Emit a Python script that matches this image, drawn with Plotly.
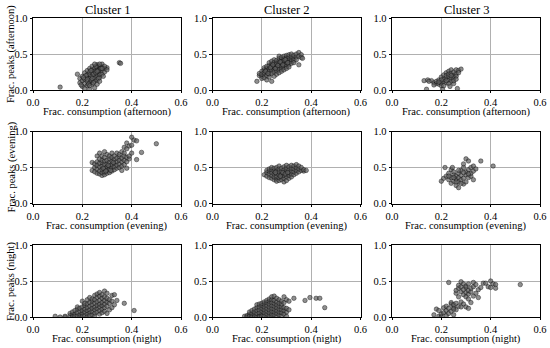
import plotly.graph_objects as go

# ---------------- data ----------------
clusters = ["Cluster 1", "Cluster 2", "Cluster 3"]
periods = ["afternoon", "evening", "night"]
x_ticks = [0.0, 0.2, 0.4, 0.6]
y_ticks = [0.0, 0.5, 1.0]

c1_afternoon = [
    (0.11, 0.04), (0.35, 0.38), (0.355, 0.37), (0.30, 0.31), (0.29, 0.30), (0.18, 0.22),
    (0.19, 0.16), (0.19, 0.10), (0.20, 0.05), (0.20, 0.13), (0.20, 0.19), (0.21, 0.24),
    (0.21, 0.09), (0.21, 0.15), (0.21, 0.02), (0.22, 0.18), (0.22, 0.27), (0.22, 0.12),
    (0.22, 0.21), (0.22, 0.06), (0.23, 0.30), (0.23, 0.16), (0.23, 0.22), (0.23, 0.10),
    (0.23, 0.25), (0.23, 0.01), (0.24, 0.19), (0.24, 0.28), (0.24, 0.13), (0.24, 0.24),
    (0.24, 0.08), (0.24, 0.33), (0.25, 0.21), (0.25, 0.17), (0.25, 0.30), (0.25, 0.26),
    (0.25, 0.12), (0.25, 0.03), (0.26, 0.35), (0.26, 0.23), (0.26, 0.28), (0.26, 0.19),
    (0.26, 0.14), (0.26, 0.31), (0.27, 0.25), (0.27, 0.33), (0.27, 0.21), (0.27, 0.29),
    (0.27, 0.17), (0.28, 0.27), (0.28, 0.32), (0.28, 0.22), (0.28, 0.36), (0.29, 0.25),
    (0.29, 0.33), (0.30, 0.28), (0.215, 0.20), (0.235, 0.14), (0.245, 0.22), (0.255, 0.24),
    (0.265, 0.27), (0.275, 0.30), (0.235, 0.27), (0.225, 0.08), (0.245, 0.10), (0.265, 0.16),
    (0.205, 0.17), (0.255, 0.33), (0.285, 0.19), (0.195, 0.07), (0.23, 0.06), (0.26, 0.08),
    (0.27, 0.36), (0.25, 0.36), (0.28, 0.30), (0.24, 0.16), (0.22, 0.15), (0.26, 0.26),
    (0.27, 0.12),
]

c2_afternoon = [
    (0.18, 0.12), (0.19, 0.20), (0.19, 0.23), (0.20, 0.19), (0.20, 0.26), (0.20, 0.22),
    (0.20, 0.16), (0.21, 0.21), (0.21, 0.28), (0.21, 0.24), (0.21, 0.17), (0.21, 0.31),
    (0.22, 0.25), (0.22, 0.30), (0.22, 0.20), (0.22, 0.33), (0.22, 0.14), (0.22, 0.27),
    (0.23, 0.29), (0.23, 0.34), (0.23, 0.22), (0.23, 0.38), (0.23, 0.26), (0.23, 0.18),
    (0.24, 0.31), (0.24, 0.27), (0.24, 0.36), (0.24, 0.40), (0.24, 0.23), (0.24, 0.12),
    (0.24, 0.33), (0.25, 0.28), (0.25, 0.35), (0.25, 0.32), (0.25, 0.42), (0.25, 0.25),
    (0.25, 0.19), (0.25, 0.38), (0.26, 0.33), (0.26, 0.30), (0.26, 0.38), (0.26, 0.41),
    (0.26, 0.26), (0.26, 0.22), (0.26, 0.36), (0.27, 0.35), (0.27, 0.31), (0.27, 0.40),
    (0.27, 0.44), (0.27, 0.28), (0.27, 0.24), (0.27, 0.37), (0.27, 0.47), (0.28, 0.37),
    (0.28, 0.33), (0.28, 0.42), (0.28, 0.29), (0.28, 0.45), (0.28, 0.26), (0.28, 0.39),
    (0.29, 0.39), (0.29, 0.34), (0.29, 0.44), (0.29, 0.31), (0.29, 0.47), (0.29, 0.28),
    (0.29, 0.41), (0.30, 0.40), (0.30, 0.36), (0.30, 0.45), (0.30, 0.48), (0.30, 0.33),
    (0.30, 0.43), (0.30, 0.30), (0.31, 0.42), (0.31, 0.38), (0.31, 0.46), (0.31, 0.49),
    (0.31, 0.35), (0.31, 0.32), (0.32, 0.43), (0.32, 0.40), (0.32, 0.47), (0.32, 0.37),
    (0.32, 0.50), (0.33, 0.44), (0.33, 0.48), (0.33, 0.41), (0.33, 0.38), (0.34, 0.46),
    (0.34, 0.50), (0.34, 0.42), (0.35, 0.52), (0.35, 0.47), (0.35, 0.35), (0.36, 0.49),
    (0.36, 0.45), (0.365, 0.44), (0.215, 0.26), (0.235, 0.31), (0.255, 0.30), (0.265, 0.34),
    (0.275, 0.39), (0.285, 0.35), (0.295, 0.42), (0.305, 0.38), (0.245, 0.35), (0.225, 0.23),
]

c3_afternoon = [
    (0.13, 0.13), (0.145, 0.14), (0.14, 0.01), (0.16, 0.13), (0.17, 0.10), (0.18, 0.09),
    (0.18, 0.12), (0.19, 0.14), (0.19, 0.08), (0.20, 0.10), (0.20, 0.06), (0.20, 0.18),
    (0.205, 0.01), (0.21, 0.12), (0.21, 0.15), (0.21, 0.21), (0.22, 0.17), (0.22, 0.24),
    (0.22, 0.10), (0.22, 0.20), (0.23, 0.14), (0.23, 0.26), (0.23, 0.19), (0.23, 0.22),
    (0.24, 0.16), (0.24, 0.23), (0.24, 0.12), (0.24, 0.28), (0.25, 0.20), (0.25, 0.25),
    (0.25, 0.17), (0.25, 0.09), (0.26, 0.22), (0.26, 0.28), (0.26, 0.19), (0.265, 0.02),
    (0.27, 0.27), (0.27, 0.24), (0.28, 0.29), (0.21, 0.06), (0.23, 0.09), (0.24, 0.20),
    (0.22, 0.13), (0.25, 0.13), (0.20, 0.14), (0.26, 0.15), (0.19, 0.11), (0.17, 0.07),
    (0.15, 0.12), (0.235, 0.05),
]

c1_evening = [
    (0.24, 0.46), (0.24, 0.57), (0.25, 0.50), (0.25, 0.55), (0.25, 0.44), (0.26, 0.42),
    (0.26, 0.48), (0.26, 0.53), (0.26, 0.58), (0.26, 0.66), (0.27, 0.41), (0.27, 0.45),
    (0.27, 0.51), (0.27, 0.56), (0.27, 0.62), (0.27, 0.70), (0.28, 0.39), (0.28, 0.43),
    (0.28, 0.47), (0.28, 0.52), (0.28, 0.57), (0.28, 0.60), (0.28, 0.66), (0.29, 0.40),
    (0.29, 0.44), (0.29, 0.49), (0.29, 0.54), (0.29, 0.59), (0.29, 0.64), (0.29, 0.72),
    (0.30, 0.42), (0.30, 0.46), (0.30, 0.51), (0.30, 0.55), (0.30, 0.60), (0.30, 0.68),
    (0.31, 0.43), (0.31, 0.48), (0.31, 0.52), (0.31, 0.57), (0.31, 0.62), (0.31, 0.66),
    (0.32, 0.45), (0.32, 0.50), (0.32, 0.54), (0.32, 0.59), (0.32, 0.64), (0.32, 0.70),
    (0.33, 0.47), (0.33, 0.51), (0.33, 0.56), (0.33, 0.61), (0.33, 0.66), (0.34, 0.49),
    (0.34, 0.53), (0.34, 0.58), (0.34, 0.63), (0.34, 0.70), (0.35, 0.50), (0.35, 0.55),
    (0.35, 0.60), (0.35, 0.65), (0.35, 0.68), (0.36, 0.46), (0.36, 0.52), (0.36, 0.58),
    (0.36, 0.63), (0.36, 0.72), (0.37, 0.54), (0.37, 0.60), (0.37, 0.66), (0.37, 0.70),
    (0.37, 0.78), (0.38, 0.49), (0.38, 0.58), (0.38, 0.64), (0.38, 0.76), (0.38, 0.84),
    (0.39, 0.62), (0.39, 0.66), (0.39, 0.80), (0.40, 0.70), (0.40, 0.81), (0.40, 0.92),
    (0.41, 0.88), (0.42, 0.61), (0.42, 0.87), (0.44, 0.71), (0.50, 0.83), (0.285, 0.49),
    (0.305, 0.53), (0.315, 0.46), (0.295, 0.45), (0.325, 0.57),
]

c2_evening = [
    (0.21, 0.40), (0.22, 0.38), (0.22, 0.43), (0.22, 0.46), (0.23, 0.36), (0.23, 0.41),
    (0.23, 0.45), (0.23, 0.48), (0.24, 0.35), (0.24, 0.39), (0.24, 0.43), (0.24, 0.47),
    (0.24, 0.50), (0.25, 0.33), (0.25, 0.37), (0.25, 0.41), (0.25, 0.45), (0.25, 0.49),
    (0.26, 0.34), (0.26, 0.38), (0.26, 0.42), (0.26, 0.46), (0.26, 0.50), (0.26, 0.31),
    (0.27, 0.32), (0.27, 0.36), (0.27, 0.40), (0.27, 0.44), (0.27, 0.48), (0.27, 0.52),
    (0.28, 0.33), (0.28, 0.37), (0.28, 0.41), (0.28, 0.45), (0.28, 0.49), (0.29, 0.30),
    (0.29, 0.35), (0.29, 0.39), (0.29, 0.43), (0.29, 0.47), (0.29, 0.51), (0.30, 0.32),
    (0.30, 0.37), (0.30, 0.41), (0.30, 0.45), (0.30, 0.49), (0.30, 0.53), (0.31, 0.35),
    (0.31, 0.39), (0.31, 0.43), (0.31, 0.47), (0.31, 0.51), (0.32, 0.37), (0.32, 0.41),
    (0.32, 0.45), (0.32, 0.49), (0.32, 0.53), (0.33, 0.40), (0.33, 0.44), (0.33, 0.48),
    (0.33, 0.52), (0.34, 0.42), (0.34, 0.46), (0.34, 0.50), (0.34, 0.54), (0.35, 0.44),
    (0.35, 0.48), (0.35, 0.52), (0.36, 0.46), (0.36, 0.50), (0.37, 0.45), (0.37, 0.47),
    (0.38, 0.46), (0.255, 0.43), (0.275, 0.38), (0.285, 0.43), (0.295, 0.41), (0.305, 0.43),
]

c3_evening = [
    (0.20, 0.31), (0.21, 0.35), (0.215, 0.50), (0.22, 0.38), (0.23, 0.33), (0.23, 0.42),
    (0.24, 0.28), (0.24, 0.36), (0.24, 0.47), (0.245, 0.50), (0.25, 0.31), (0.25, 0.40),
    (0.25, 0.44), (0.26, 0.25), (0.26, 0.34), (0.26, 0.38), (0.27, 0.22), (0.27, 0.30),
    (0.27, 0.36), (0.27, 0.42), (0.28, 0.33), (0.28, 0.39), (0.28, 0.46), (0.29, 0.27),
    (0.29, 0.35), (0.29, 0.50), (0.29, 0.55), (0.30, 0.30), (0.30, 0.40), (0.30, 0.44),
    (0.30, 0.62), (0.31, 0.36), (0.31, 0.47), (0.31, 0.59), (0.32, 0.38), (0.32, 0.42),
    (0.32, 0.50), (0.33, 0.45), (0.33, 0.33), (0.33, 0.52), (0.34, 0.48), (0.36, 0.59),
    (0.41, 0.52), (0.26, 0.30), (0.28, 0.28), (0.25, 0.36), (0.23, 0.38), (0.31, 0.41),
    (0.29, 0.43), (0.27, 0.46),
]

c1_night = [
    (0.09, 0.01), (0.11, 0.00), (0.13, 0.00), (0.13, 0.01), (0.15, 0.02), (0.15, 0.05),
    (0.16, 0.03), (0.16, 0.07), (0.16, 0.00), (0.17, 0.04), (0.17, 0.09), (0.17, 0.01),
    (0.18, 0.02), (0.18, 0.06), (0.18, 0.11), (0.18, 0.14), (0.19, 0.03), (0.19, 0.08),
    (0.19, 0.12), (0.19, 0.00), (0.20, 0.05), (0.20, 0.09), (0.20, 0.14), (0.20, 0.01),
    (0.20, 0.22), (0.21, 0.02), (0.21, 0.07), (0.21, 0.11), (0.21, 0.16), (0.21, 0.19),
    (0.22, 0.04), (0.22, 0.09), (0.22, 0.13), (0.22, 0.18), (0.22, 0.00), (0.22, 0.24),
    (0.23, 0.06), (0.23, 0.10), (0.23, 0.15), (0.23, 0.20), (0.23, 0.02), (0.23, 0.27),
    (0.24, 0.03), (0.24, 0.08), (0.24, 0.12), (0.24, 0.17), (0.24, 0.22), (0.24, 0.25),
    (0.25, 0.05), (0.25, 0.10), (0.25, 0.14), (0.25, 0.19), (0.25, 0.24), (0.25, 0.30),
    (0.25, 0.01), (0.26, 0.07), (0.26, 0.12), (0.26, 0.16), (0.26, 0.21), (0.26, 0.27),
    (0.26, 0.32), (0.27, 0.04), (0.27, 0.09), (0.27, 0.14), (0.27, 0.18), (0.27, 0.23),
    (0.27, 0.29), (0.27, 0.34), (0.28, 0.06), (0.28, 0.11), (0.28, 0.16), (0.28, 0.20),
    (0.28, 0.26), (0.28, 0.31), (0.29, 0.08), (0.29, 0.13), (0.29, 0.18), (0.29, 0.23),
    (0.29, 0.28), (0.29, 0.36), (0.30, 0.05), (0.30, 0.15), (0.30, 0.21), (0.30, 0.26),
    (0.30, 0.33), (0.31, 0.10), (0.31, 0.19), (0.31, 0.24), (0.32, 0.13), (0.32, 0.22),
    (0.32, 0.30), (0.33, 0.17), (0.33, 0.31), (0.34, 0.23), (0.37, 0.19), (0.41, 0.09),
]

c2_night = [
    (0.13, 0.01), (0.14, 0.02), (0.14, 0.00), (0.15, 0.04), (0.15, 0.01), (0.15, 0.07),
    (0.16, 0.02), (0.16, 0.05), (0.16, 0.09), (0.16, 0.00), (0.17, 0.03), (0.17, 0.07),
    (0.17, 0.11), (0.17, 0.00), (0.18, 0.01), (0.18, 0.05), (0.18, 0.09), (0.18, 0.13),
    (0.18, 0.17), (0.19, 0.02), (0.19, 0.06), (0.19, 0.10), (0.19, 0.14), (0.19, 0.18),
    (0.19, 0.00), (0.20, 0.04), (0.20, 0.08), (0.20, 0.12), (0.20, 0.16), (0.20, 0.19),
    (0.20, 0.01), (0.21, 0.02), (0.21, 0.06), (0.21, 0.10), (0.21, 0.14), (0.21, 0.18),
    (0.21, 0.21), (0.22, 0.00), (0.22, 0.04), (0.22, 0.08), (0.22, 0.12), (0.22, 0.16),
    (0.22, 0.20), (0.22, 0.23), (0.23, 0.02), (0.23, 0.06), (0.23, 0.10), (0.23, 0.14),
    (0.23, 0.18), (0.23, 0.22), (0.23, 0.25), (0.24, 0.01), (0.24, 0.04), (0.24, 0.08),
    (0.24, 0.12), (0.24, 0.16), (0.24, 0.20), (0.24, 0.24), (0.24, 0.28), (0.25, 0.03),
    (0.25, 0.07), (0.25, 0.11), (0.25, 0.15), (0.25, 0.19), (0.25, 0.23), (0.25, 0.29),
    (0.26, 0.01), (0.26, 0.05), (0.26, 0.09), (0.26, 0.13), (0.26, 0.17), (0.26, 0.21),
    (0.26, 0.26), (0.27, 0.03), (0.27, 0.07), (0.27, 0.11), (0.27, 0.15), (0.27, 0.19),
    (0.27, 0.24), (0.28, 0.02), (0.28, 0.06), (0.28, 0.10), (0.28, 0.14), (0.28, 0.18),
    (0.28, 0.22), (0.29, 0.04), (0.29, 0.09), (0.29, 0.13), (0.29, 0.20), (0.29, 0.28),
    (0.30, 0.01), (0.30, 0.07), (0.30, 0.12), (0.30, 0.24), (0.31, 0.10), (0.31, 0.22),
    (0.33, 0.26), (0.375, 0.23), (0.395, 0.27), (0.42, 0.26), (0.435, 0.26), (0.455, 0.13),
]

c3_night = [
    (0.17, 0.03), (0.18, 0.11), (0.19, 0.01), (0.19, 0.09), (0.20, 0.04), (0.20, 0.00),
    (0.21, 0.06), (0.21, 0.13), (0.22, 0.02), (0.22, 0.09), (0.22, 0.15), (0.23, 0.48),
    (0.23, 0.05), (0.23, 0.12), (0.24, 0.18), (0.24, 0.08), (0.24, 0.20), (0.25, 0.13),
    (0.25, 0.17), (0.25, 0.03), (0.26, 0.10), (0.26, 0.19), (0.26, 0.33), (0.26, 0.37),
    (0.27, 0.15), (0.27, 0.28), (0.27, 0.40), (0.27, 0.44), (0.28, 0.21), (0.28, 0.35),
    (0.28, 0.42), (0.28, 0.49), (0.29, 0.18), (0.29, 0.31), (0.29, 0.38), (0.29, 0.46),
    (0.30, 0.14), (0.30, 0.28), (0.30, 0.34), (0.30, 0.41), (0.30, 0.43), (0.31, 0.25),
    (0.31, 0.32), (0.31, 0.37), (0.31, 0.46), (0.32, 0.20), (0.32, 0.35), (0.32, 0.40),
    (0.33, 0.29), (0.33, 0.42), (0.33, 0.48), (0.34, 0.33), (0.34, 0.45), (0.35, 0.38),
    (0.35, 0.27), (0.36, 0.41), (0.37, 0.47), (0.38, 0.47), (0.39, 0.42), (0.40, 0.41),
    (0.40, 0.50), (0.41, 0.46), (0.42, 0.45), (0.42, 0.40), (0.52, 0.45), (0.25, 0.11),
    (0.28, 0.14), (0.31, 0.12),
]

panels = [
    [c1_afternoon, c2_afternoon, c3_afternoon],
    [c1_evening, c2_evening, c3_evening],
    [c1_night, c2_night, c3_night],
]

# ---------------- layout ----------------
W, H = 550, 348
col_px = [(33, 181), (212.5, 360.5), (392, 540)]
row_px = [(18, 90), (131.5, 203.5), (245, 317)]
FONT = "Liberation Serif"


def px(v):
    return v / W


def py(v):
    return 1 - v / H


fig = go.Figure()
annotations = []
layout = dict(
    width=W, height=H, margin=dict(l=0, r=0, t=0, b=0, autoexpand=False),
    paper_bgcolor="white", plot_bgcolor="white", showlegend=False,
    font=dict(family=FONT, size=10, color="black"),
)

for r in range(3):
    for c in range(3):
        idx = r * 3 + c + 1
        xs = [p[0] for p in panels[r][c]]
        ys = [p[1] for p in panels[r][c]]
        xa = "x" if idx == 1 else f"x{idx}"
        ya = "y" if idx == 1 else f"y{idx}"
        fig.add_trace(go.Scatter(
            x=xs, y=ys, mode="markers", xaxis=xa, yaxis=ya,
            marker=dict(size=4.5, color="rgba(95,95,95,0.7)",
                        line=dict(color="rgba(0,0,0,0.65)", width=0.6)),
            hoverinfo="skip",
        ))
        x0, x1 = col_px[c]
        y0, y1 = row_px[r]
        common = dict(showline=True, linecolor="black", linewidth=0.8, mirror=True,
                      ticks="outside", ticklen=2.5, tickwidth=0.8, tickcolor="black",
                      showgrid=True, gridcolor="#b0b0b0", gridwidth=0.8,
                      zeroline=False, automargin=False,
                      tickfont=dict(family=FONT, size=10.5))
        layout["xaxis" if idx == 1 else f"xaxis{idx}"] = dict(
            domain=[px(x0), px(x1)], range=[0, 0.6], tickvals=x_ticks,
            tickformat=".1f", anchor=ya, **common)
        layout["yaxis" if idx == 1 else f"yaxis{idx}"] = dict(
            domain=[py(y1), py(y0)], range=[0, 1.0], tickvals=y_ticks,
            tickformat=".1f", anchor=xa, **common)
        annotations.append(dict(
            text=f"Frac. consumption ({periods[r]})",
            x=px((x0 + x1) / 2), y=py(y1 + 22),
            xref="paper", yref="paper", xanchor="center", yanchor="middle",
            showarrow=False, font=dict(family=FONT, size=10.5)))
        if c == 0:
            annotations.append(dict(
                text=f"Frac. peaks ({periods[r]})", textangle=-90,
                x=px(11), y=py((y0 + y1) / 2),
                xref="paper", yref="paper", xanchor="center", yanchor="middle",
                showarrow=False, font=dict(family=FONT, size=10.5)))

for c in range(3):
    x0, x1 = col_px[c]
    annotations.append(dict(
        text=clusters[c], x=px((x0 + x1) / 2), y=py(10.5),
        xref="paper", yref="paper", xanchor="center", yanchor="middle",
        showarrow=False, font=dict(family=FONT, size=12.5)))

layout["annotations"] = annotations
fig.update_layout(**layout)
# remove the default 8 px page margin so the figure sits at the window corner
fig.write_html("out.html", config={"displayModeBar": False},
               post_script="document.body.style.margin='0';document.body.style.padding='0';")
